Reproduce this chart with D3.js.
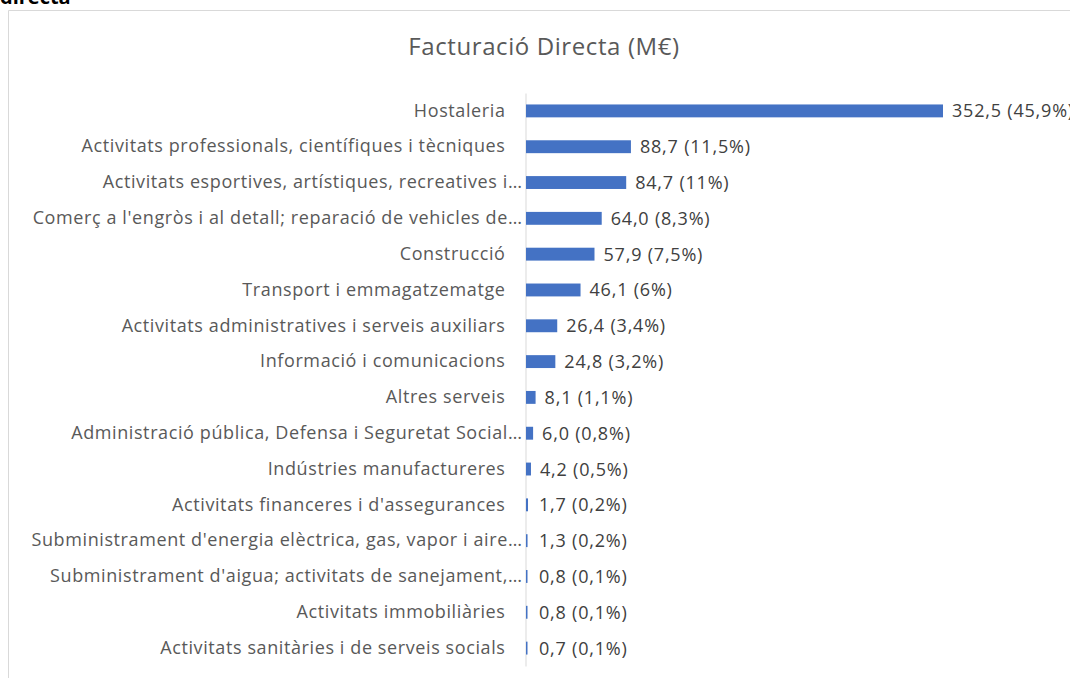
<!DOCTYPE html>
<html>
<head>
<meta charset="utf-8">
<script src="https://cdn.jsdelivr.net/npm/d3@7"></script>
<style>
  body { margin: 0; background: #fff; }
  svg { display: block; }
</style>
</head>
<body>
<div id="bar"></div>
<script>
// categories, values and percentage labels
const categories = [
  "Hostaleria",
  "Activitats professionals, científiques i tècniques",
  "Activitats esportives,  artístiques, recreatives i…",
  "Comerç a l'engròs i al detall; reparació de vehicles de…",
  "Construcció",
  "Transport i emmagatzematge",
  "Activitats administratives i serveis auxiliars",
  "Informació i comunicacions",
  "Altres serveis",
  "Administració pública, Defensa i Seguretat Social…",
  "Indústries manufactureres",
  "Activitats financeres i d'assegurances",
  "Subministrament d'energia elèctrica, gas, vapor i aire…",
  "Subministrament d'aigua; activitats de sanejament,…",
  "Activitats immobiliàries",
  "Activitats sanitàries i de serveis socials"
]
const values = [352.5, 88.7, 84.7, 64.0, 57.9, 46.1, 26.4, 24.8, 8.1, 6.0, 4.2, 1.7, 1.3, 0.8, 0.8, 0.7]
const shares = ["45,9%", "11,5%", "11%", "8,3%", "7,5%", "6%", "3,4%", "3,2%", "1,1%", "0,8%", "0,5%", "0,2%", "0,2%", "0,1%", "0,1%", "0,1%"]

const width = 1070, height = 678
const font = "'Open Sans', sans-serif"

const svg = d3.select("#bar")
    .append("svg")
    .attr("width", width)
    .attr("height", height)

// cut-off heading above the chart frame
svg.append("text")
    .attr("x", 0).attr("y", 4)
    .attr("font-family", font).attr("font-weight", "bold").attr("font-size", 20)
    .attr("fill", "#000")
    .text("directa")

// chart frame (only top and left edge are visible)
svg.append("path")
    .attr("d", "M8.5,678 V10.5 H1070")
    .attr("fill", "none")
    .attr("stroke", "#d9d9d9")

svg.append("text")
    .attr("x", 544).attr("y", 55)
    .attr("text-anchor", "middle")
    .attr("font-family", font).attr("font-size", 24)
    .attr("font-weight", 500)
    .attr("letter-spacing", 0.6)
    .attr("fill", "#595959")
    .text("Facturació  Directa (M€)")

const data = categories.map((c, i) => ({label: c, value: values[i], share: shares[i]}))

const x = d3.scaleLinear()
    .domain([0, 352.5])
    .range([526, 943])

const y = d3.scaleBand()
    .domain(categories)
    .range([93, 666])
    .paddingInner(0.64)
    .paddingOuter(0.32)

// category axis
const yAxis = svg.append("g")
    .attr("transform", "translate(525.5,0)")
    .call(d3.axisLeft(y).tickSize(0))
yAxis.select(".domain").attr("stroke", "#d9d9d9")
yAxis.selectAll(".tick text")
    .attr("font-family", font).attr("font-size", 18)
    .attr("letter-spacing", 0.6)
    .attr("fill", "#595959")
    .attr("x", d => d.endsWith("…") ? -3 : -20)

svg.append("g")
    .selectAll("rect")
    .data(data)
    .join("rect")
    .attr("x", x(0))
    .attr("y", d => y(d.label))
    .attr("width", d => Math.max(1.5, x(d.value) - x(0)))
    .attr("height", y.bandwidth())
    .attr("fill", "#4472c4")

svg.append("g")
    .selectAll("text")
    .data(data)
    .join("text")
    .attr("x", d => Math.max(x(d.value), x(0) + 4) + 9)
    .attr("y", d => y(d.label) + y.bandwidth() / 2)
    .attr("dy", "0.36em")
    .attr("font-family", font).attr("font-size", 18)
    .attr("letter-spacing", 0.8)
    .attr("fill", "#404040")
    .text(d => d3.format(".1f")(d.value).replace(".", ",") + " (" + d.share + ")")
</script>
</body>
</html>
